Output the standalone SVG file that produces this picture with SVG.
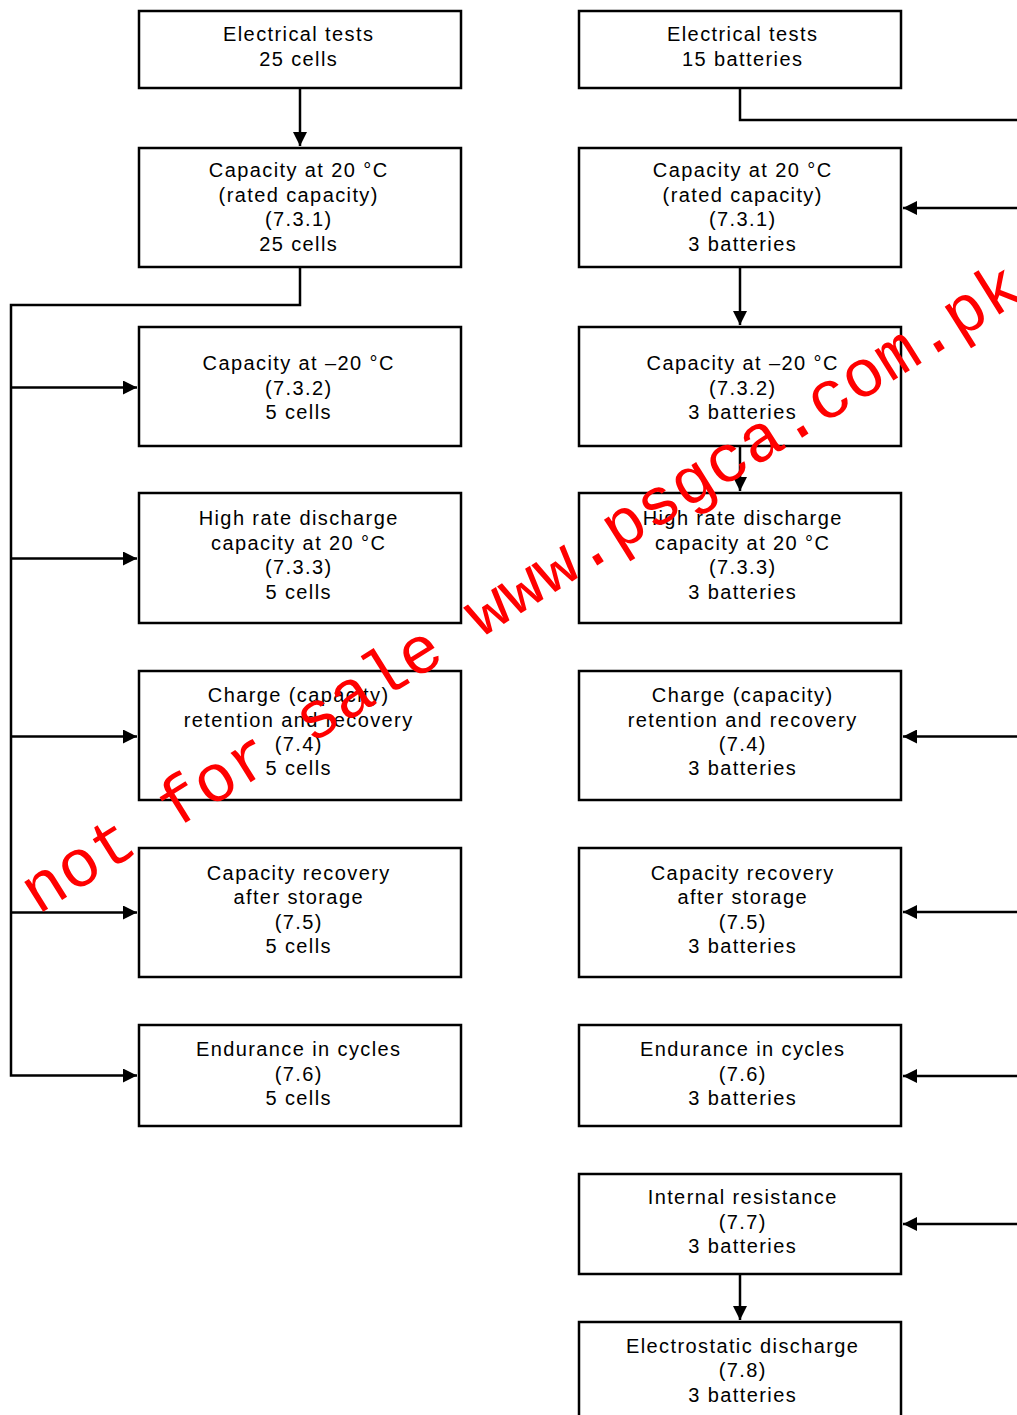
<svg xmlns="http://www.w3.org/2000/svg" width="1017" height="1415" viewBox="0 0 1017 1415">
<defs>
<style>
.box{fill:#fff;stroke:#000;stroke-width:2.5}
.t{font-family:"Liberation Sans",Arial,sans-serif;font-size:20px;letter-spacing:1.4px;text-anchor:middle;fill:#000}
.c{fill:none;stroke:#000;stroke-width:2.5}
.wm{font-family:"Liberation Mono","Courier New",monospace;font-size:67px;fill:#ff0000}
</style>
<marker id="ah" markerUnits="userSpaceOnUse" markerWidth="14" markerHeight="14" refX="14" refY="7" orient="auto">
<path d="M0,0 L14,7 L0,14 z" fill="#000"/>
</marker>
</defs>
<rect width="1017" height="1415" fill="#fff"/>

<g id="connectors">
<path class="c" d="M300,88 V146" marker-end="url(#ah)"/>
<path class="c" d="M300,267 V305 H11 V1075.5 H137" marker-end="url(#ah)"/>
<path class="c" d="M11,387.5 H137" marker-end="url(#ah)"/>
<path class="c" d="M11,558.5 H137" marker-end="url(#ah)"/>
<path class="c" d="M11,736.5 H137" marker-end="url(#ah)"/>
<path class="c" d="M11,912.5 H137" marker-end="url(#ah)"/>
<path class="c" d="M740,88 V120 H1017"/>
<path class="c" d="M1017,208 H903" marker-end="url(#ah)"/>
<path class="c" d="M740,267 V325" marker-end="url(#ah)"/>
<path class="c" d="M740,446 V491" marker-end="url(#ah)"/>
<path class="c" d="M1017,736.5 H903" marker-end="url(#ah)"/>
<path class="c" d="M1017,912 H903" marker-end="url(#ah)"/>
<path class="c" d="M1017,1076 H903" marker-end="url(#ah)"/>
<path class="c" d="M1017,1224 H903" marker-end="url(#ah)"/>
<path class="c" d="M740,1274 V1320" marker-end="url(#ah)"/>
</g>

<g id="L1"><rect class="box" x="139" y="11" width="322" height="77"/>
<text class="t" x="298.7" y="41">Electrical tests</text>
<text class="t" x="298.7" y="66">25 cells</text></g>

<g id="L2"><rect class="box" x="139" y="148" width="322" height="119"/>
<text class="t" x="298.7" y="177">Capacity at 20 °C</text>
<text class="t" x="298.7" y="201.5">(rated capacity)</text>
<text class="t" x="298.7" y="226">(7.3.1)</text>
<text class="t" x="298.7" y="250.5">25 cells</text></g>

<g id="L3"><rect class="box" x="139" y="327" width="322" height="119"/>
<text class="t" x="298.7" y="370">Capacity at –20 °C</text>
<text class="t" x="298.7" y="394.5">(7.3.2)</text>
<text class="t" x="298.7" y="419">5 cells</text></g>

<g id="L4"><rect class="box" x="139" y="493" width="322" height="130"/>
<text class="t" x="298.7" y="525">High rate discharge</text>
<text class="t" x="298.7" y="549.5">capacity at 20 °C</text>
<text class="t" x="298.7" y="574">(7.3.3)</text>
<text class="t" x="298.7" y="598.5">5 cells</text></g>

<g id="L5"><rect class="box" x="139" y="671" width="322" height="129"/>
<text class="t" x="298.7" y="702">Charge (capacity)</text>
<text class="t" x="298.7" y="726.5">retention and recovery</text>
<text class="t" x="298.7" y="751">(7.4)</text>
<text class="t" x="298.7" y="775">5 cells</text></g>

<g id="L6"><rect class="box" x="139" y="848" width="322" height="129"/>
<text class="t" x="298.7" y="879.5">Capacity recovery</text>
<text class="t" x="298.7" y="904">after storage</text>
<text class="t" x="298.7" y="928.5">(7.5)</text>
<text class="t" x="298.7" y="953">5 cells</text></g>

<g id="L7"><rect class="box" x="139" y="1025" width="322" height="101"/>
<text class="t" x="298.7" y="1056">Endurance in cycles</text>
<text class="t" x="298.7" y="1080.5">(7.6)</text>
<text class="t" x="298.7" y="1105">5 cells</text></g>

<g id="R1"><rect class="box" x="579" y="11" width="322" height="77"/>
<text class="t" x="742.7" y="41">Electrical tests</text>
<text class="t" x="742.7" y="66">15 batteries</text></g>

<g id="R2"><rect class="box" x="579" y="148" width="322" height="119"/>
<text class="t" x="742.7" y="177">Capacity at 20 °C</text>
<text class="t" x="742.7" y="201.5">(rated capacity)</text>
<text class="t" x="742.7" y="226">(7.3.1)</text>
<text class="t" x="742.7" y="250.5">3 batteries</text></g>

<g id="R3"><rect class="box" x="579" y="327" width="322" height="119"/>
<text class="t" x="742.7" y="370">Capacity at –20 °C</text>
<text class="t" x="742.7" y="394.5">(7.3.2)</text>
<text class="t" x="742.7" y="419">3 batteries</text></g>

<g id="R4"><rect class="box" x="579" y="493" width="322" height="130"/>
<text class="t" x="742.7" y="525">High rate discharge</text>
<text class="t" x="742.7" y="549.5">capacity at 20 °C</text>
<text class="t" x="742.7" y="574">(7.3.3)</text>
<text class="t" x="742.7" y="598.5">3 batteries</text></g>

<g id="R5"><rect class="box" x="579" y="671" width="322" height="129"/>
<text class="t" x="742.7" y="702">Charge (capacity)</text>
<text class="t" x="742.7" y="726.5">retention and recovery</text>
<text class="t" x="742.7" y="751">(7.4)</text>
<text class="t" x="742.7" y="775">3 batteries</text></g>

<g id="R6"><rect class="box" x="579" y="848" width="322" height="129"/>
<text class="t" x="742.7" y="879.5">Capacity recovery</text>
<text class="t" x="742.7" y="904">after storage</text>
<text class="t" x="742.7" y="928.5">(7.5)</text>
<text class="t" x="742.7" y="953">3 batteries</text></g>

<g id="R7"><rect class="box" x="579" y="1025" width="322" height="101"/>
<text class="t" x="742.7" y="1056">Endurance in cycles</text>
<text class="t" x="742.7" y="1080.5">(7.6)</text>
<text class="t" x="742.7" y="1105">3 batteries</text></g>

<g id="R8"><rect class="box" x="579" y="1174" width="322" height="100"/>
<text class="t" x="742.7" y="1204">Internal resistance</text>
<text class="t" x="742.7" y="1228.5">(7.7)</text>
<text class="t" x="742.7" y="1253">3 batteries</text></g>

<g id="R9"><rect class="box" x="579" y="1322" width="322" height="120"/>
<text class="t" x="742.7" y="1352.5">Electrostatic discharge</text>
<text class="t" x="742.7" y="1377">(7.8)</text>
<text class="t" x="742.7" y="1401.5">3 batteries</text></g>

<g id="watermark">
<text class="wm" transform="translate(38,915) rotate(-32)">not for sale www.psgca.com.pk</text>
</g>
</svg>
